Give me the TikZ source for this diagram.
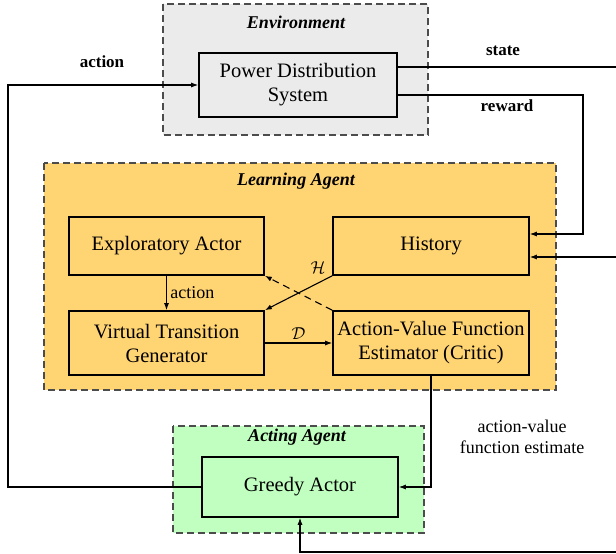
\documentclass[tikz,border=0pt]{standalone}
\usepackage{fontspec}
\setmainfont{Liberation Serif}
\usetikzlibrary{arrows.meta}

\tikzset{
    unit/.style={draw, line width=1.6pt, align=center, inner sep=0pt,
        font=\fontsize{20.5}{24}\selectfont},
    group/.style={draw=black!70, dashed, line width=1.2pt, dash pattern=on 7pt off 4pt},
    flow/.style={line width=1.1pt, -{Latex[length=7pt,width=5pt]}},
    title/.style={font=\fontsize{18}{22}\selectfont\bfseries\itshape},
    sig/.style={font=\fontsize{17}{20}\selectfont\bfseries},
    note/.style={font=\fontsize{18}{21}\selectfont, align=center}
}

\begin{document}
\begin{tikzpicture}[x=1pt, y=-1pt]

    % Colors for the blocks
    \definecolor{envgray}{RGB}{235,235,235}
    \definecolor{learnorange}{RGB}{255,212,115}
    \definecolor{actgreen}{RGB}{192,255,192}

    \useasboundingbox (0,0) rectangle (616,554);

    % Environment
    \draw[group, fill=envgray] (163,4) rectangle (428,135);
    \node[title] (envtitle) at (296,22) {Environment};
    \node[unit, fill=envgray, minimum width=198pt, minimum height=64pt] (pds) at (298,85)
        {Power Distribution\\System};

    % Learning Agent
    \draw[group, fill=learnorange] (44,163) rectangle (556,390);
    \node[title] (learntitle) at (296,181) {Learning Agent};
    \node[unit, minimum width=195pt, minimum height=58pt] (explorer) at (166.5,246) {Exploratory Actor};
    \node[unit, minimum width=196pt, minimum height=58pt] (history) at (431,246) {History};
    \node[unit, minimum width=195pt, minimum height=64pt] (vtg) at (166.5,343)
        {Virtual Transition\\Generator};
    \node[unit, minimum width=196pt, minimum height=64pt] (critic) at (431,343)
        {Action-Value Function\\Estimator (Critic)};

    % Acting Agent
    \draw[group, fill=actgreen] (173,426) rectangle (424,533);
    \node[title] (acttitle) at (297,437) {Acting Agent};
    \node[unit, fill=actgreen, minimum width=196pt, minimum height=60pt] (greedy) at (300,487) {Greedy Actor};

    % Labels
    \node[sig] (actlbl) at (102,62) {action};
    \node[sig] (statelbl) at (503,51) {state};
    \node[sig] (rewardlbl) at (507,106) {reward};
    \node[note] (qlbl) at (522,437) {action-value\\function estimate};

    % Turning points (the right edge lies outside the picture)
    \coordinate (leftturn) at (8,85);
    \coordinate (stateturn) at (622,67);
    \coordinate (rewardturn) at (583,95);
    \coordinate (bottomturn) at (622,552);

    % Connectors
    \draw[flow] (greedy.west) -| (leftturn) -- (pds.west);
    \draw[flow] ([yshift=18pt]pds.east) -- (stateturn) |- ([yshift=-11pt]history.east);
    \draw[flow] ([yshift=-10pt]pds.east) -- (rewardturn) |- ([yshift=12pt]history.east);
    \draw[flow] (explorer.south) -- node[right, note] {action} (vtg.north);
    \draw[flow] (history.south west) -- (vtg.north east);
    \node (hlbl) at (318,268) {\fontsize{18}{20}\selectfont$\mathcal{H}$};
    \draw[flow, dashed, dash pattern=on 7pt off 5pt] (critic.north west) -- (explorer.south east);
    \draw[flow] (vtg.east) -- node[above] {\fontsize{18}{20}\selectfont$\mathcal{D}$} (critic.west);
    \draw[flow] (critic.south) |- (greedy.east);
    \draw[flow] (bottomturn) -| (greedy.south);

\end{tikzpicture}
\end{document}
